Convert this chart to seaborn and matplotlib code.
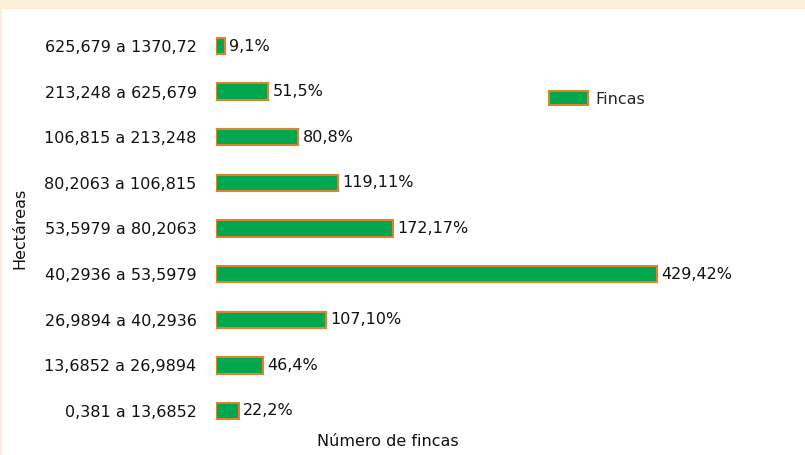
import matplotlib
matplotlib.use("Agg")
import matplotlib.pyplot as plt
import matplotlib.patches as mpatches
import seaborn as sns
import pandas as pd

# Farm size ranges (hectares), listed top to bottom
rangos = [
    "625,679 a 1370,72",
    "213,248 a 625,679",
    "106,815 a 213,248",
    "80,2063 a 106,815",
    "53,5979 a 80,2063",
    "40,2936 a 53,5979",
    "26,9894 a 40,2936",
    "13,6852 a 26,9894",
    "0,381 a 13,6852",
]
fincas = [9, 51, 80, 119, 172, 429, 107, 46, 22]
porcentaje = [1, 5, 8, 11, 17, 42, 10, 4, 2]

df = pd.DataFrame({"Hectáreas": rangos, "Fincas": fincas})

sns.set_theme(style="white")
plt.rcParams["font.family"] = ["DejaVu Sans"]

W, H = 805, 455
fig = plt.figure(figsize=(W / 100, H / 100), dpi=100)
fig.patch.set_facecolor("white")

# light peach frame along the top and left edge
band = "#FFEFD8"
fig.add_artist(mpatches.Rectangle((0, 1 - 9 / H), 1, 9 / H, transform=fig.transFigure,
                                  facecolor=band, edgecolor="none", zorder=0))
fig.add_artist(mpatches.Rectangle((0, 0), 2 / W, 1, transform=fig.transFigure,
                                  facecolor=band, edgecolor="none", zorder=0))

left, right = 216, 790
bottom, top = 433.8, 23.2
ax = fig.add_axes([left / W, (H - bottom) / H, (right - left) / W, (bottom - top) / H])
ax.set_facecolor("none")

green = "#00A74F"
orange = "#DB842E"
sns.barplot(data=df, x="Fincas", y="Hectáreas", orient="h", ax=ax,
            color=green, saturation=1, width=0.36,
            edgecolor=orange, linewidth=1.5)

ax.set_xlim(0, (right - left) / 1.028)
ax.set_ylim(len(rangos) - 0.5, -0.5)

etiquetas = [f"{n},{p}%" for n, p in zip(fincas, porcentaje)]
ax.bar_label(ax.containers[0], labels=etiquetas, padding=3,
             fontsize=11.5, color="#111111")

for s in ax.spines.values():
    s.set_visible(False)
ax.set_xticks([])
ax.tick_params(axis="y", length=0, pad=14, labelsize=11.5, labelcolor="#111111")
ax.set_xlabel("")
ax.set_ylabel("")

fig.text(388 / W, 1 - 442 / H, "Número de fincas", ha="center", va="center",
         fontsize=11.5, color="#111111")
fig.text(20 / W, 1 - 228 / H, "Hectáreas", ha="center", va="center",
         rotation=90, fontsize=11.5, color="#111111")

handle = mpatches.Patch(facecolor=green, edgecolor=orange, linewidth=1.5, label="Fincas")
fig.legend(handles=[handle], loc="center left", bbox_to_anchor=(543 / W, 1 - 99 / H),
           frameon=False, fontsize=11.5, handlelength=2.4, handleheight=0.95,
           handletextpad=0.5, borderaxespad=0)

fig.savefig("out.png", dpi=100)
